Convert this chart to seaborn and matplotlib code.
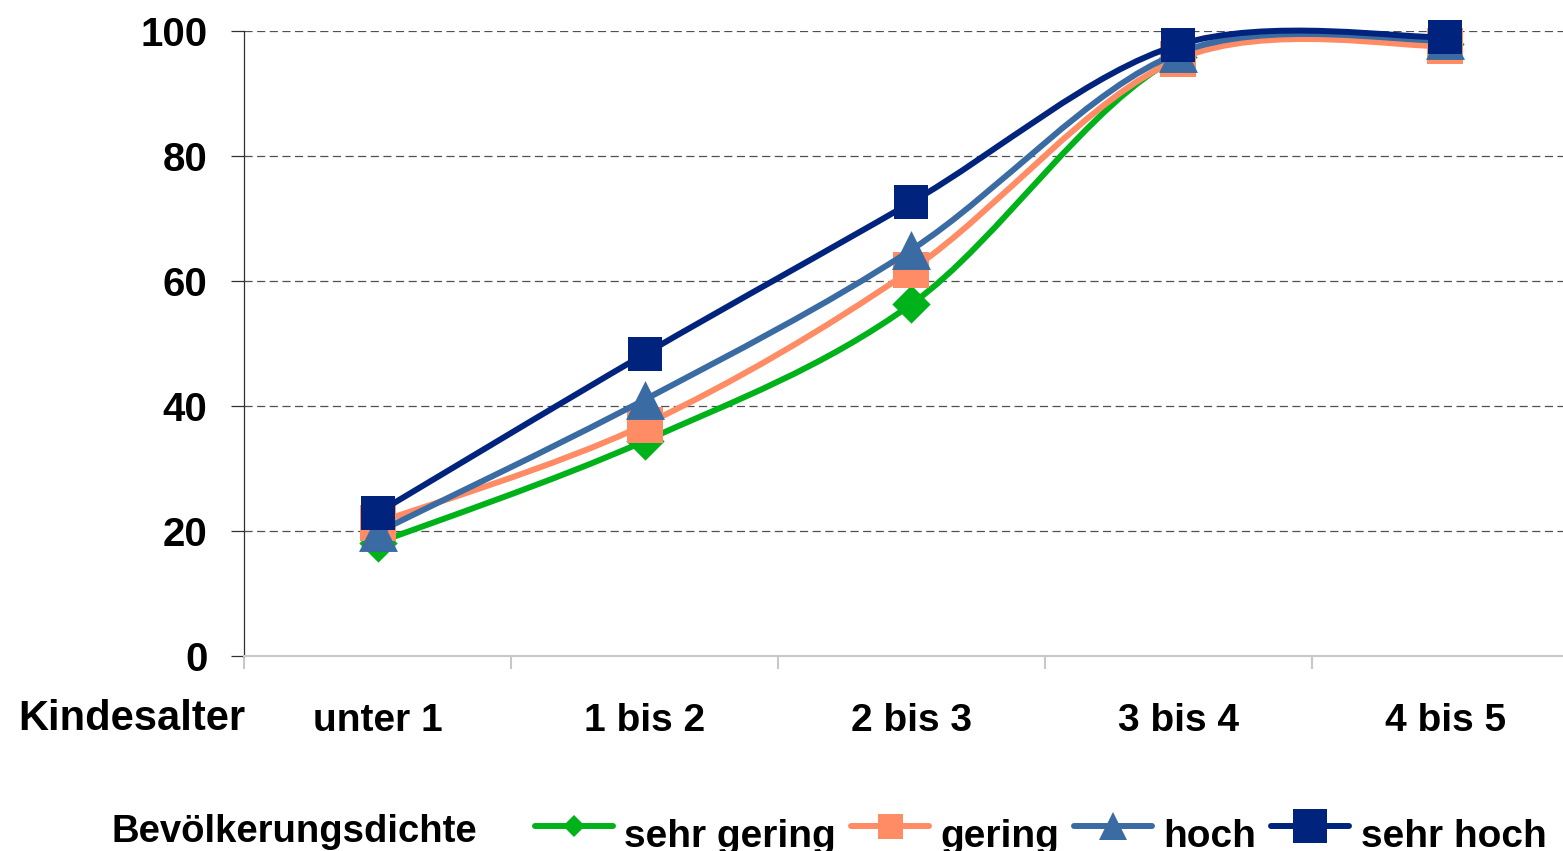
"""
Anteil der Kinder in Betreuung nach Kindesalter und Bevölkerungsdichte.
"""

import numpy as np
import matplotlib.pyplot as plt
from matplotlib.path import Path
from matplotlib.patches import PathPatch
from matplotlib.lines import Line2D
from matplotlib.transforms import ScaledTranslation
import seaborn as sns

# Daten
age_groups = ['unter 1', '1 bis 2', '2 bis 3', '3 bis 4', '4 bis 5']
density_labels = ['sehr gering', 'gering', 'hoch', 'sehr hoch']
sehr_gering = [18.1, 34.4, 56.3, 95.8, 98.0]
gering = [21.3, 37.0, 61.8, 95.5, 97.6]
hoch = [19.8, 41.0, 65.0, 96.5, 98.5]
sehr_hoch = [22.9, 48.3, 72.6, 97.8, 99.0]
y_ticks = [0, 20, 40, 60, 80, 100]

series = [sehr_gering, gering, hoch, sehr_hoch]
colors = ['#00B21A', '#FF8C64', '#3A6BA3', '#00247D']
markers = ['D', 's', '^', 's']
marker_sizes = [19.5, 26, 28, 24.5]
legend_marker_sizes = [11, 18, 20, 24.5]


def smooth_path(xs, ys):
    """Glatte Kurve (Catmull-Rom als kubische Bezier) wie in Excel."""
    pts = np.column_stack([xs, ys]).astype(float)
    verts = [pts[0]]
    codes = [Path.MOVETO]
    n = len(pts)
    for i in range(n - 1):
        p_prev = pts[i - 1] if i > 0 else pts[i]
        p_next2 = pts[i + 2] if i + 2 < n else pts[i + 1]
        c1 = pts[i] + (pts[i + 1] - p_prev) / 6
        c2 = pts[i + 1] - (p_next2 - pts[i]) / 6
        verts += [c1, c2, pts[i + 1]]
        codes += [Path.CURVE4] * 3
    return Path(verts, codes)


sns.set_style('white')
plt.rcParams['font.family'] = ['Liberation Sans', 'DejaVu Sans']
plt.rcParams['font.weight'] = 'bold'
plt.rcParams['text.color'] = 'black'
plt.rcParams['xtick.labelcolor'] = 'black'
plt.rcParams['ytick.labelcolor'] = 'black'

fig = plt.figure(figsize=(15.63, 8.51), dpi=100)
ax = fig.add_axes([244 / 1563, 1 - 656 / 851, 1335 / 1563, 625 / 851])

x_pos = np.arange(len(age_groups))

for k, values in enumerate(series):
    patch = PathPatch(smooth_path(x_pos, values), fill=False, edgecolor=colors[k],
                      linewidth=4.3, capstyle='round', joinstyle='round',
                      zorder=3 + 2 * k, clip_on=False)
    ax.add_patch(patch)
    sns.scatterplot(x=x_pos, y=values, marker=markers[k], s=marker_sizes[k] ** 2,
                    color=colors[k], edgecolor=colors[k], linewidth=0,
                    ax=ax, zorder=4 + 2 * k, clip_on=False, legend=False)

ax.set_xlim(-0.5, len(age_groups) - 0.5)
ax.set_ylim(0, 100)

# Achsen
ax.set_xticks(x_pos)
ax.set_xticklabels(age_groups, fontsize=28, fontweight='bold', color='black')
ax.set_xticks(np.arange(-0.5, len(age_groups)), minor=True)
ax.tick_params(axis='x', which='major', length=0, pad=34)
ax.tick_params(axis='x', which='minor', length=9, width=1.5, color='#c8c8c8',
               direction='out', bottom=True)
ax.set_yticks(y_ticks)
ax.set_yticklabels([str(v) for v in y_ticks], fontsize=29, fontweight='bold',
                   color='black')
ax.tick_params(axis='y', length=9.4, width=0.9, color='#303030', pad=17,
               direction='out', left=True)

ax.yaxis.grid(True, linestyle=(0, (6.5, 3.6)), linewidth=0.9, color='#505050')
ax.xaxis.grid(False)
ax.set_axisbelow(True)

for side in ['top', 'right']:
    ax.spines[side].set_visible(False)
ax.spines['left'].set_color('#303030')
ax.spines['left'].set_linewidth(0.9)
ax.spines['bottom'].set_color('#c8c8c8')
ax.spines['bottom'].set_linewidth(1.5)
ax.spines['bottom'].set_zorder(2.5)

ax.set_xlabel('')
ax.set_ylabel('')

fig.text(18 / 1563, 1 - 730 / 851, 'Kindesalter', fontsize=30, fontweight='bold',
         ha='left', va='baseline')
fig.text(112 / 1563, 1 - 842 / 851, 'Bevölkerungsdichte', fontsize=27.5,
         fontweight='bold', ha='left', va='baseline')

# Legende
handles = [Line2D([0], [0], color=colors[k], linewidth=4.3, marker=markers[k],
                  markersize=legend_marker_sizes[k], markeredgewidth=0,
                  solid_capstyle='round')
           for k in range(len(series))]
leg = fig.legend(handles, density_labels, loc='center left',
                 bbox_to_anchor=(535 / 1563, 1 - 830 / 851),
                 bbox_transform=fig.transFigure,
                 ncol=4, frameon=False, handlelength=2.0,
                 handletextpad=0.3, columnspacing=0.38, borderpad=0,
                 borderaxespad=0, prop={'weight': 'bold', 'size': 28})
# Text der Legende etwas tiefer setzen (wie in der Vorlage)
for t in leg.get_texts():
    t.set_transform(t.get_transform() + ScaledTranslation(0, -7 / 100, fig.dpi_scale_trans))

fig.savefig('out.png', dpi=100)
plt.close(fig)
